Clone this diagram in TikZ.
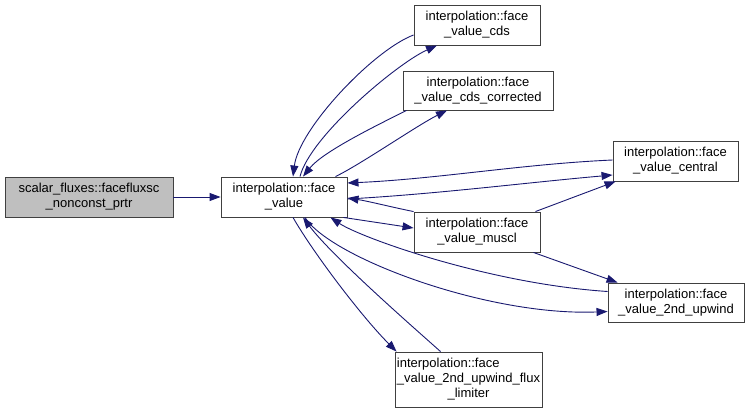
\documentclass[tikz,border=0pt]{standalone}
\usepackage{fontspec}
\setmainfont{Liberation Sans}
\usetikzlibrary{arrows.meta, calc}
\definecolor{edgeblue}{HTML}{191970}
\definecolor{callergray}{HTML}{BFBFBF}

\begin{document}
\begin{tikzpicture}[
    x=1pt, y=-1pt,
    >={Triangle[length=11pt, width=8pt]},
    fn/.style={draw=black!75, fill=white, inner sep=0pt, align=center,
               line width=0.9pt, font=\fontsize{13}{15}\selectfont},
    call/.style={->, draw=edgeblue, line width=0.9pt}
  ]
  \useasboundingbox (0,0) rectangle (749,412);

  % Functions
  \node[fn, fill=callergray, minimum width=168pt, minimum height=40pt]
    (facefluxsc) at (89,197) {scalar\_fluxes::facefluxsc\\\_nonconst\_prtr};
  \node[fn, minimum width=126pt, minimum height=40pt]
    (fv) at (284,197) {interpolation::face\\\_value};
  \node[fn, minimum width=126pt, minimum height=40pt]
    (cds) at (477,25) {interpolation::face\\\_value\_cds};
  \node[fn, minimum width=150pt, minimum height=39pt]
    (cdscorr) at (478,90.5) {interpolation::face\\\_value\_cds\_corrected};
  \node[fn, minimum width=125pt, minimum height=40pt]
    (central) at (675.5,161) {interpolation::face\\\_value\_central};
  \node[fn, minimum width=126pt, minimum height=40pt]
    (muscl) at (477,232) {interpolation::face\\\_value\_muscl};
  \node[fn, minimum width=136pt, minimum height=39pt]
    (upwind) at (676,302.5) {interpolation::face\\\_value\_2nd\_upwind};
  \node[fn, minimum width=147pt, minimum height=55pt]
    (limiter) at (468.5,379.5)
    {\begin{tabular}{@{}l@{}}interpolation::face\\
      \_value\_2nd\_upwind\_flux\\
      \multicolumn{1}{@{}c@{}}{\_limiter}\end{tabular}};

  % Calls
  \draw[call] (facefluxsc.east) -- (fv.west);

  \draw[call] ($(cds.west)+(0,10)$) .. controls +(-40,15) and +(6,-48)
    .. ($(fv.north)+(9,0)$);
  \draw[call] ($(fv.north)+(16,0)$) .. controls +(10,-40) and +(-40,18)
    .. ($(cds.south)+(-40,0)$);

  \draw[call] ($(cdscorr.south west)+(4,0)$) .. controls +(-30,15) and +(20,-25)
    .. ($(fv.north)+(19,0)$);
  \draw[call] ($(fv.north east)+(-12,0)$) .. controls +(25,-12) and +(-30,15)
    .. ($(cdscorr.south)+(-31,0)$);

  \draw[call] ($(central.west)+(0,-1)$) .. controls +(-90,4) and +(90,-4)
    .. ($(fv.east)+(0,-14)$);
  \draw[call] ($(fv.east)+(0,2)$) .. controls +(90,-5) and +(-90,8)
    .. ($(central.west)+(0,14)$);

  \draw[call] (muscl.north west) .. controls +(-20,-4) and +(20,3)
    .. ($(fv.east)+(0,1)$);
  \draw[call] ($(fv.south east)+(-4,0)$) -- ($(muscl.west)+(0,-4)$);

  \draw[call] ($(muscl.north east)+(-5,0)$) -- ($(central.south west)+(3,0)$);
  \draw[call] ($(muscl.south east)+(-7,0)$) -- ($(upwind.north west)+(10,0)$);

  \draw[call] ($(upwind.west)+(0,-11)$) .. controls +(-120,-8) and +(30,20)
    .. ($(fv.south east)+(-17,0)$);
  \draw[call] ($(fv.south)+(21,0)$) .. controls +(25,40) and +(-120,5)
    .. ($(upwind.west)+(0,9)$);

  \draw[call] ($(fv.south)+(9,0)$) .. controls +(20,35) and +(-35,-35)
    .. ($(limiter.north west)+(2,0)$);
  \draw[call] ($(limiter.north)+(-28,0)$) .. controls +(-20,-18) and +(30,40)
    .. ($(fv.south)+(19,0)$);
\end{tikzpicture}
\end{document}
